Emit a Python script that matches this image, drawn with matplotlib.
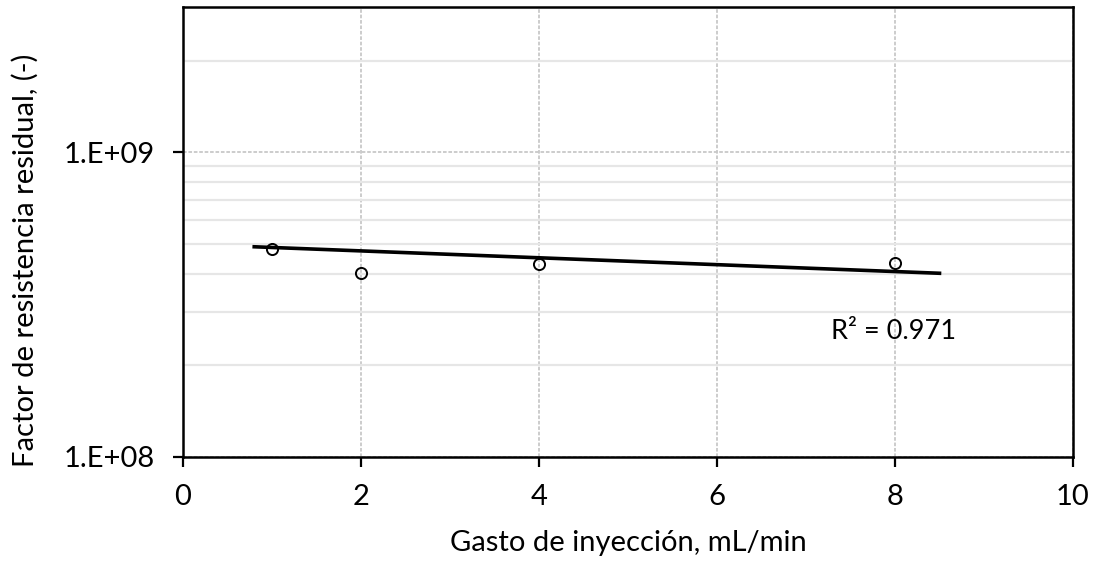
import numpy as np
import matplotlib
matplotlib.use("Agg")
import matplotlib.pyplot as plt
from matplotlib.ticker import FixedLocator, FixedFormatter, NullFormatter

plt.rcParams['font.family'] = ['Lato', 'DejaVu Sans']

# gasto de inyeccion (mL/min) vs factor de resistencia residual
gasto = [1, 2, 4, 8]
frr = [4.83e8, 4.01e8, 4.29e8, 4.32e8]

# linea de tendencia exponencial y = a*exp(b*x)
trend_a = 5.0e8
trend_b = -0.026
trend_x0, trend_x1 = 0.8, 8.5
r2_text = "R² = 0.971"

fig = plt.figure(figsize=(10.94, 5.65), dpi=100)
ax = fig.add_axes([0.1673, 0.1912, 0.8135, 0.7965])

ax.set_yscale('log')
ax.set_xlim(0, 10)
ax.set_ylim(1e8, 3e9)

xt = np.linspace(trend_x0, trend_x1, 100)
ax.plot(xt, trend_a * np.exp(trend_b * xt), color='black', lw=2.6, zorder=3)
ax.plot(gasto, frr, 'o', mfc='none', mec='black', ms=8, mew=1.4, zorder=4)

ax.text(7.98, 2.59e8, r2_text, fontsize=19.5, ha='center', va='center')

# ejes
ax.set_xticks([0, 2, 4, 6, 8, 10])
ax.yaxis.set_major_locator(FixedLocator([1e8, 1e9]))
ax.yaxis.set_major_formatter(FixedFormatter(['1.E+08', '1.E+09']))
minors = [k * 1e8 for k in range(2, 10)] + [2e9]
ax.yaxis.set_minor_locator(FixedLocator(minors))
ax.yaxis.set_minor_formatter(NullFormatter())

ax.tick_params(axis='both', which='major', direction='out', length=7.2, width=1.6,
               labelsize=21, color='black')
ax.tick_params(axis='x', pad=12)
ax.tick_params(axis='y', pad=13)
ax.tick_params(axis='y', which='minor', length=0)

ax.grid(True, which='major', axis='x', color='#c8c8c8', lw=1.3, ls=(0, (2, 1)))
ax.grid(True, which='major', axis='y', color='#c8c8c8', lw=1.3, ls=(0, (2, 1)))
ax.grid(True, which='minor', axis='y', color='#e6e6e6', lw=1.6, ls='-')
ax.set_axisbelow(True)

for s in ax.spines.values():
    s.set_color('black')
    s.set_linewidth(1.8)

ax.set_xlabel('Gasto de inyección, mL/min', fontsize=21)
ax.set_ylabel('Factor de resistencia residual, (-)', fontsize=21)
ax.yaxis.set_label_coords(-0.162, 0.436)
ax.xaxis.set_label_coords(0.5, -0.162)

fig.savefig('out.png', dpi=100)
